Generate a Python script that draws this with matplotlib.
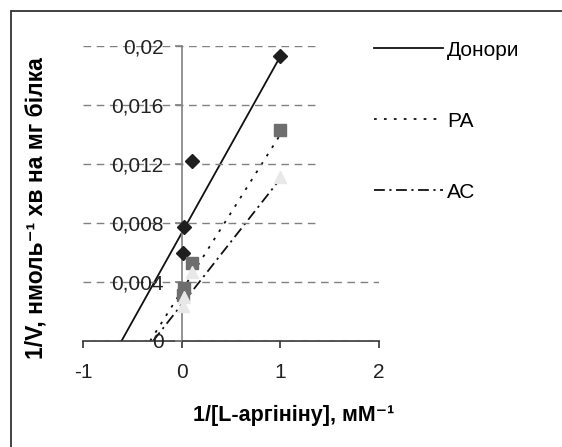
import matplotlib.pyplot as plt
from matplotlib.patches import Rectangle

plt.rcParams['font.family'] = ['Liberation Sans', 'DejaVu Sans']

# 1/[L-arginine] values (same for every group)
inv_s = [0.01, 0.02, 0.1, 1]

# 1/V values
donors = [0.0060, 0.0077, 0.0122, 0.0193]
ra = [0.0031, 0.0036, 0.0053, 0.0143]
as_vals = [0.0024, 0.0030, 0.0047, 0.0111]

# trendlines (x where they meet 1/V = 0, and their end at x = 1)
trend_don_x = [-0.61, 1]
trend_don_y = [0, 0.0193]
trend_ra_x = [-0.32, 1]
trend_ra_y = [0, 0.0140]
trend_as_x = [-0.29, 1]
trend_as_y = [0, 0.0110]

names = ['Донори', 'РА', 'АС']
xticks = [-1, 0, 1, 2]
yticks = [0, 0.004, 0.008, 0.012, 0.016, 0.02]
ytick_labels = ['0', '0,004', '0,008', '0,012', '0,016', '0,02']

W, H = 562, 447
fig = plt.figure(figsize=(W / 100, H / 100), dpi=100)
ax = fig.add_axes([83 / W, 1 - 341 / H, 296 / W, 295 / H])

grey = '#808080'

# trendlines
l1, = ax.plot(trend_don_x, trend_don_y, color='#111111', lw=1.3, label=names[0])
l2, = ax.plot(trend_ra_x, trend_ra_y, color='#111111', lw=1.3,
              linestyle=(0, (1.5, 4)), label=names[1])
l3, = ax.plot(trend_as_x, trend_as_y, color='#111111', lw=1.3,
              linestyle=(0, (6, 2.5, 1.2, 2.5)), label=names[2])

# data points
ax.plot(inv_s, donors, 'D', color='#1e1e1e', markersize=7.5, zorder=4)
ax.plot(inv_s, ra, 's', color='#6e6e6e', markersize=8, zorder=4)
ax.plot(inv_s, as_vals, '^', color='#e8e8e8', markersize=9, zorder=4)

ax.set_xlim(-1, 2)
ax.set_ylim(0, 0.02)
ax.set_xticks(xticks)
ax.set_xticklabels([str(t) for t in xticks])
ax.set_yticks(yticks)
ax.set_yticklabels(ytick_labels)

ax.spines['left'].set_position(('data', 0))
ax.spines['top'].set_visible(False)
ax.spines['right'].set_visible(False)
for s in ['left', 'bottom']:
    ax.spines[s].set_color(grey)
    ax.spines[s].set_linewidth(1.2)
ax.spines['bottom'].set_color('#333333')

ax.tick_params(axis='y', direction='out', length=5, width=1.2, color=grey,
               labelsize=15, pad=8, labelcolor='#222222')
ax.tick_params(axis='x', direction='out', length=5, width=1.2, color='#333333',
               labelsize=15, pad=11, labelcolor='#222222')
ax.yaxis.grid(True, color=grey, lw=1, linestyle=(0, (5.5, 4)))
ax.set_axisbelow(False)
ax.patch.set_visible(False)

fig.legend(handles=[l1, l2, l3], labels=names, loc='lower left',
           bbox_to_anchor=(317 / W, 1 - 259 / H), borderaxespad=0,
           frameon=True, facecolor='white', edgecolor='none', framealpha=1,
           fancybox=False, borderpad=2.75, handlelength=3.3, handletextpad=0.2,
           labelspacing=2.5, fontsize=15)

fig.text(36 / W, 1 - 208 / H, '1/V, нмоль⁻¹ хв на мг білка', rotation=90,
         ha='center', va='center', fontsize=16.5, fontweight='bold')
fig.text(294 / W, 1 - 415 / H, '1/[L-аргініну], мМ⁻¹',
         ha='center', va='center', fontsize=15.5, fontweight='bold')

# outer chart border (only top and left are inside the picture)
fig.patches.append(Rectangle((11 / W, -0.1), 1.2, 1 - 11 / H + 0.1,
                             transform=fig.transFigure, fill=False,
                             edgecolor='#333333', lw=1.3, zorder=10))

fig.savefig('out.png', dpi=100)
